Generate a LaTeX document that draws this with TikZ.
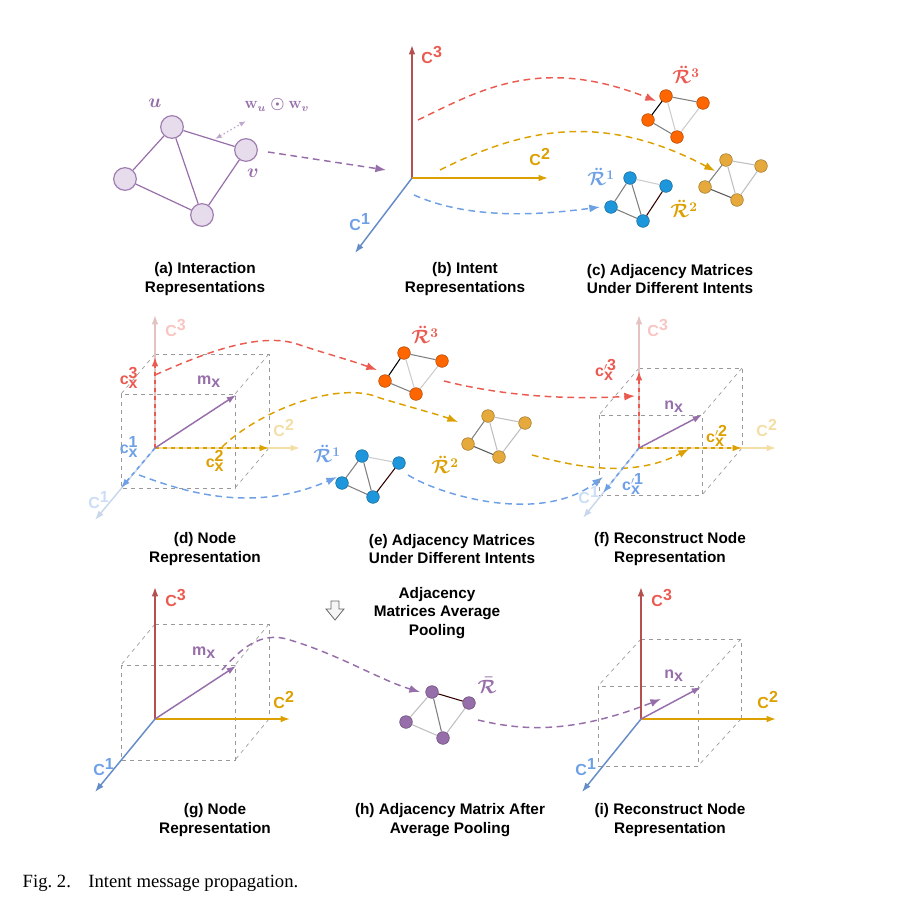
\documentclass[tikz,border=0pt]{standalone}
\usepackage{fontspec}
\setmainfont{Liberation Sans}
\newfontfamily\capfont{Liberation Serif}
\usetikzlibrary{arrows.meta}
\definecolor{axA}{RGB}{100,140,200}
\definecolor{axB}{RGB}{220,160,0}
\definecolor{axC}{RGB}{180,80,80}
\definecolor{labA}{RGB}{110,160,230}
\definecolor{labC}{RGB}{235,90,80}
\definecolor{purp}{RGB}{150,110,170}
\definecolor{gfill}{RGB}{230,220,235}
\definecolor{mOrange}{RGB}{255,102,0}
\definecolor{mGold}{RGB}{230,170,60}
\definecolor{mBlue}{RGB}{30,150,220}
\tikzset{
  axis/.style={line width=1.1pt,-{Latex[length=7pt,width=5pt]}},
  comp/.style={line width=1.2pt,dashed,-{Latex[length=7pt,width=5pt]}},
  flow/.style={line width=1.1pt,dash pattern=on 5pt off 3.5pt,-{Latex[length=8pt,width=6pt]}},
  mnode/.style={circle,inner sep=0pt,minimum size=9.5pt,draw=#1!70!black,fill=#1},
  medge/.style={line width=0.8pt},
  gnode/.style={circle,inner sep=0pt,minimum size=17pt,draw=purp!90,line width=0.9pt,fill=gfill},
  lab/.style={font=\bfseries\fontsize{12}{13}\selectfont,inner sep=1pt},
  rlab/.style={font=\Large\boldmath,inner sep=1pt},
  capt/.style={font=\bfseries\fontsize{11.5}{14}\selectfont,align=center},
  box/.style={gray!80,dashed,line width=0.5pt}
}
\newcommand{\ax}[1]{C$^{\textbf{#1}}$}
\newcommand{\cx}[1]{c$^{\textbf{#1}}_{\textbf{x}}$}
\newcommand{\cpx}[1]{c$'^{\textbf{#1}}_{\textbf{x}}$}
% dashed cube: back-left x, back-top y, back-right x, base y, dx, dy
\newcommand{\dcube}[6]{%
  \draw[box] (#1,#2) -- (#3,#2) -- (#3,#4);
  \draw[box] (#1-#5,#2+#6) rectangle (#3-#5,#4+#6);
  \draw[box] (#1,#2) -- (#1-#5,#2+#6) (#3,#2) -- (#3-#5,#2+#6) (#3,#4) -- (#3-#5,#4+#6);
}
\begin{document}
\begin{tikzpicture}[x=0.75pt,y=-0.75pt]
\useasboundingbox (0,0) rectangle (920,900);

% (a) interaction graph
\node[gnode] (u) at (172,127) {};
\node[gnode] (v) at (246,150) {};
\node[gnode] (l) at (125,179) {};
\node[gnode] (b) at (202,215) {};
\draw[purp,line width=0.9pt] (u) -- (v) (u) -- (l) (u) -- (b) (v) -- (b) (l) -- (b);
\node[purp,rlab] (ul) at (155,103) {$u$};
\node[purp,rlab] (vl) at (253,173) {$v$};
\node[purp,font=\large\boldmath,anchor=west] (wuv) at (240,105) {$\mathbf{w}_u\odot\mathbf{w}_v$};
\coordinate (d1) at (215,139);
\coordinate (d2) at (246,121);
\draw[purp!60,dotted,line width=1pt,{Latex[length=5pt]}-{Latex[length=5pt]}] (d1) -- (d2);
\draw[flow,purp] (268,152) -- (386,170);

% (b) intent axes
\coordinate (ob) at (412,178);
\draw[axis,axC] (ob) -- (412,45);
\draw[axis,axB] (ob) -- (548,178);
\draw[axis,axA] (ob) -- (355,253);
\node[lab,labC] (b3) at (432,55) {\ax{3}};
\node[lab,axB] (b2) at (540,157) {\ax{2}};
\node[lab,labA] (b1) at (360,222) {\ax{1}};

% (c) adjacency matrices
\node[mnode=mOrange] (ra) at (666,96) {};
\node[mnode=mOrange] (rb) at (703,103) {};
\node[mnode=mOrange] (rc) at (648,120) {};
\node[mnode=mOrange] (rd) at (677,137) {};
\draw[medge] (ra) -- (rc); \draw[medge,gray] (ra) -- (rb) (rc) -- (rd); \draw[medge,gray!40] (rb) -- (rd) (ra) -- (rd);
\node[labC,rlab] (rl) at (686,75) {$\ddot{\mathcal{R}}^{3}$};
\node[mnode=mGold] (ga) at (726,160) {};
\node[mnode=mGold] (gb) at (761,166) {};
\node[mnode=mGold] (gc) at (705,187) {};
\node[mnode=mGold] (gd) at (737,200) {};
\draw[medge,gray!50] (ga) -- (gb) (gb) -- (gd) (ga) -- (gd); \draw[medge,gray] (ga) -- (gc); \draw[medge,gray!70!black] (gc) -- (gd);
\node[axB,rlab] (gl) at (684,209) {$\ddot{\mathcal{R}}^{2}$};
\node[mnode=mBlue] (ba) at (630,178) {};
\node[mnode=mBlue] (bb) at (666,186) {};
\node[mnode=mBlue] (bc) at (611,207) {};
\node[mnode=mBlue] (bd) at (643,221) {};
\draw[medge,gray] (ba) -- (bc) (bc) -- (bd) (ba) -- (bd); \draw[medge,gray!40] (ba) -- (bb); \draw[medge,black!80!red] (bb) -- (bd);
\node[labA,rlab] (bl) at (601,177) {$\ddot{\mathcal{R}}^{1}$};
\draw[flow,labC] (418,120) .. controls (480,90) and (540,55) .. (656,101);
\draw[flow,axB] (440,170) .. controls (520,130) and (600,110) .. (715,171);
\draw[flow,labA] (414,195) .. controls (470,220) and (540,215) .. (600,207);

\node[capt] (ca) at (205,279) {(a) Interaction\\Representations};
\node[capt] (cb) at (465,279) {(b) Intent\\Representations};
\node[capt] (cc) at (670,279) {(c) Adjacency Matrices\\Under Different Intents};

% (d) node representation
\dcube{155}{354}{269}{448}{34}{40}
\coordinate (od) at (155,448);
\draw[axis,axC!35] (od) -- (155,315);
\draw[axis,axB!35] (od) -- (300,448);
\draw[axis,axA!35] (od) -- (95,520);
\draw[comp,labC] (od) -- (155,357);
\draw[comp,axB] (od) -- (269,448);
\draw[comp,labA] (od) -- (121,488);
\draw[axis,purp] (od) -- (236,395);
\node[lab,labC!35] at (176,328) {\ax{3}};
\node[lab,axB!35] at (284,428) {\ax{2}};
\node[lab,labA!35] at (99,500) {\ax{1}};
\node[lab,labC] at (129,378) {\cx{3}};
\node[lab,labA] at (129,447) {\cx{1}};
\node[lab,axB] at (215,461) {\cx{2}};
\node[lab,purp] at (209,382) {m$_{\textbf{x}}$};

% (e) adjacency matrices
\node[mnode=mOrange] (sa) at (404,353) {};
\node[mnode=mOrange] (sb) at (442,361) {};
\node[mnode=mOrange] (sc) at (385,381) {};
\node[mnode=mOrange] (sd) at (416,394) {};
\draw[medge] (sa) -- (sc); \draw[medge,gray] (sa) -- (sb) (sc) -- (sd); \draw[medge,gray!40] (sb) -- (sd) (sa) -- (sd);
\node[labC,rlab] at (425,335) {$\ddot{\mathcal{R}}^{3}$};
\node[mnode=mGold] (ha) at (488,416) {};
\node[mnode=mGold] (hb) at (525,423) {};
\node[mnode=mGold] (hc) at (468,444) {};
\node[mnode=mGold] (hd) at (499,457) {};
\draw[medge,gray!50] (ha) -- (hb) (hb) -- (hd) (ha) -- (hd); \draw[medge,gray] (ha) -- (hc); \draw[medge,gray!70!black] (hc) -- (hd);
\node[axB,rlab] at (445,465) {$\ddot{\mathcal{R}}^{2}$};
\node[mnode=mBlue] (ea) at (362,456) {};
\node[mnode=mBlue] (eb) at (399,463) {};
\node[mnode=mBlue] (ec) at (342,483) {};
\node[mnode=mBlue] (ed) at (373,497) {};
\draw[medge,gray] (ea) -- (ec) (ec) -- (ed) (ea) -- (ed); \draw[medge,gray!40] (ea) -- (eb); \draw[medge,black!80!red] (eb) -- (ed);
\node[labA,rlab] at (327,454) {$\ddot{\mathcal{R}}^{1}$};

\draw[flow,labC] (155,375) .. controls (200,355) and (260,330) .. (300,345) .. controls (330,355) and (350,360) .. (377,370);
\draw[flow,labC] (444,381) .. controls (500,395) and (560,400) .. (635,396);
\draw[flow,axB] (222,447) .. controls (260,410) and (340,380) .. (380,398) .. controls (420,410) and (440,415) .. (458,422);
\draw[flow,axB] (532,455) .. controls (570,465) and (630,480) .. (689,449);
\draw[flow,labA] (139,475) .. controls (180,490) and (250,515) .. (337,477);
\draw[flow,labA] (408,475) .. controls (440,495) and (540,525) .. (603,477);

% (f) reconstructed node representation
\dcube{639}{368}{742}{448}{40}{47}
\coordinate (of) at (639,448);
\draw[axis,axC!35] (of) -- (639,315);
\draw[axis,axB!35] (of) -- (776,448);
\draw[axis,axA!35] (of) -- (583,518);
\draw[comp,labC] (of) -- (639,371);
\draw[comp,axB] (of) -- (742,448);
\draw[comp,labA] (of) -- (603,493);
\draw[axis,purp] (of) -- (702,415);
\node[lab,labC!35] at (658,328) {\ax{3}};
\node[lab,axB!35] at (767,428) {\ax{2}};
\node[lab,labA!35] at (589,495) {\ax{1}};
\node[lab,labC] at (606,370) {\cpx{3}};
\node[lab,labA] at (633,484) {\cpx{1}};
\node[lab,axB] at (717,436) {\cpx{2}};
\node[lab,purp] at (674,407) {n$_{\textbf{x}}$};

\node[capt] (cd) at (205,549) {(d) Node\\Representation};
\node[capt] (ce) at (452,549) {(e) Adjacency Matrices\\Under Different Intents};
\node[capt] (cf) at (670,549) {(f) Reconstruct Node\\Representation};

% (g) node representation
\dcube{155}{624}{269}{719}{34}{41}
\coordinate (og) at (155,719);
\draw[axis,axC] (og) -- (155,587);
\draw[axis,axB] (og) -- (290,719);
\draw[axis,axA] (og) -- (95,792);
\draw[axis,purp] (og) -- (236,666);
\node[lab,labC] at (176,598) {\ax{3}};
\node[lab,axB] at (284,700) {\ax{2}};
\node[lab,labA] at (104,767) {\ax{1}};
\node[lab,purp] at (204,653) {m$_{\textbf{x}}$};

% pooling step
\draw[gray!80!black,fill=gray!8,line width=0.6pt] (331,601) -- (339,601) -- (339,609) -- (344,609) -- (335,620) -- (326,609) -- (331,609) -- cycle;
\node[capt] (pool) at (437,613) {Adjacency\\Matrices Average\\Pooling};

% (h) averaged matrix
\node[mnode=purp] (pa) at (432,692) {};
\node[mnode=purp] (pb) at (469,703) {};
\node[mnode=purp] (pc) at (406,722) {};
\node[mnode=purp] (pd) at (443,738) {};
\draw[medge,black!80!red] (pa) -- (pb); \draw[medge,gray!50] (pa) -- (pc) (pc) -- (pd) (pb) -- (pd); \draw[medge,gray] (pa) -- (pd);
\node[purp,rlab] at (487,685) {$\bar{\mathcal{R}}$};
\draw[flow,purp] (222,670) .. controls (240,650) and (260,630) .. (290,640) .. controls (340,655) and (380,680) .. (420,692);
\draw[flow,purp] (478,720) .. controls (520,730) and (570,735) .. (661,699);

% (i) reconstructed node representation
\dcube{641}{639}{741}{719}{43}{47}
\coordinate (oi) at (641,719);
\draw[axis,axC] (oi) -- (641,587);
\draw[axis,axB] (oi) -- (776,719);
\draw[axis,axA] (oi) -- (582,792);
\draw[axis,purp] (oi) -- (701,687);
\node[lab,labC] at (662,598) {\ax{3}};
\node[lab,axB] at (768,700) {\ax{2}};
\node[lab,labA] at (586,767) {\ax{1}};
\node[lab,purp] at (674,676) {n$_{\textbf{x}}$};

\node[capt] (cg) at (215,820) {(g) Node\\Representation};
\node[capt] (ch) at (450,820) {(h) Adjacency Matrix After\\Average Pooling};
\node[capt] (ci) at (670,820) {(i) Reconstruct Node\\Representation};

\node[anchor=west,font=\capfont\fontsize{14}{16}\selectfont] (fig) at (18,883) {Fig.~2.\hspace{0.6em} Intent message propagation.};
\end{tikzpicture}
\end{document}
